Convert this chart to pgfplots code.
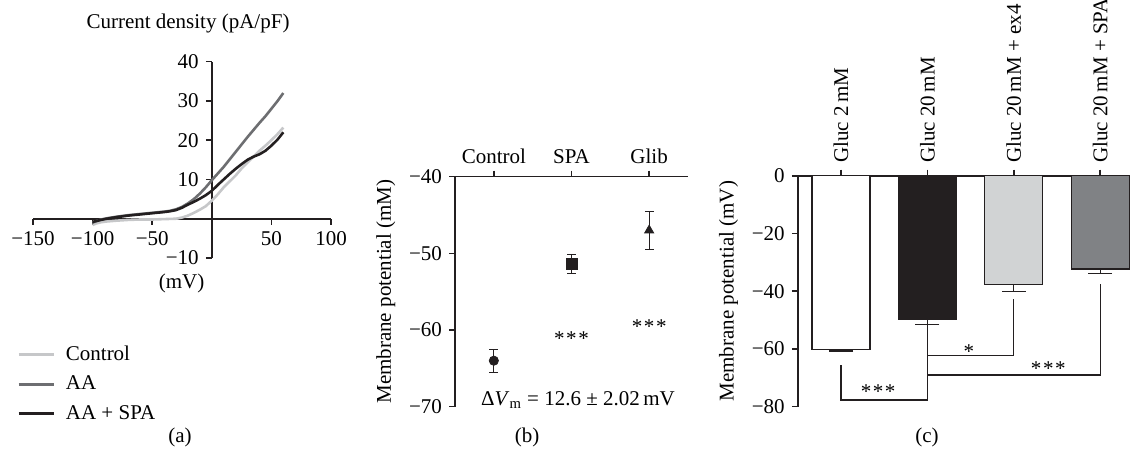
\documentclass[border=0pt]{standalone}
\usepackage{fontspec}
\setmainfont{Liberation Serif}
\usepackage{pgfplots}
\pgfplotsset{compat=1.18}

\definecolor{ctrlgray}{HTML}{C6C7C9}
\definecolor{aagray}{HTML}{6D6E71}
\definecolor{nearblack}{HTML}{231F20}
\definecolor{barlight}{HTML}{D1D3D4}
\definecolor{bargray}{HTML}{808285}

\pgfplotsset{
  panel/.style={
    scale only axis,
    anchor=south west,
    clip=false,
    axis line style={line width=0.8pt, nearblack},
    major tick style={line width=0.8pt, nearblack},
    major tick length=3pt,
    tick align=outside,
  },
}

\begin{document}
\begin{tikzpicture}[font=\fontsize{10.5}{12.6}\selectfont]
\useasboundingbox (0,0) rectangle (565.5pt,227pt);

% (a) current density
\begin{axis}[panel,
    at={(16.5pt,98pt)}, width=149pt, height=98.2pt,
    axis lines*=middle,
    xmin=-150, xmax=100, ymin=-10, ymax=40,
    xtick={-150,-100,-50,50,100},
    xticklabels={−150,−100,−50,50,100},
    ytick={-10,10,20,30,40},
    yticklabels={−10,10,20,30,40},
    legend style={at={(-0.054,-0.425)}, anchor=north west, draw=none, fill=none,
      inner sep=0pt, row sep=2.2pt, cells={anchor=west}},
    legend image code/.code={\draw[#1, line width=1.3pt] (0pt,0pt) -- (17.5pt,0pt);
      \path (21pt,0pt);},
]
\addplot[ctrlgray, line width=1.3pt] coordinates {
  (-100,-1.6) (-97,-1.2) (-93,-0.9) (-88,-0.7) (-80,-0.5) (-70,-0.3) (-60,-0.2)
  (-50,-0.2) (-40,-0.1) (-30,0) (-25,0.3) (-20,0.8) (-15,1.5) (-10,2.3) (-5,3.2)
  (0,4.6) (5,6.2) (10,8) (15,9.5) (20,11) (25,12.8) (30,14.3) (35,15.8) (40,17.3)
  (45,18.6) (50,20) (55,21.5) (60,23.2)};
\addlegendentry{Control}
\addplot[aagray, line width=1.3pt] coordinates {
  (-100,-1) (-97,-0.6) (-93,-0.2) (-88,0.1) (-80,0.5) (-70,0.9) (-60,1.2) (-50,1.5)
  (-40,1.8) (-35,2) (-30,2.4) (-25,3) (-20,3.9) (-15,5) (-10,6.4) (-5,8) (0,9.8)
  (5,11.5) (10,13.2) (15,15.1) (20,17) (25,18.9) (30,20.8) (35,22.6) (40,24.4)
  (45,26.1) (50,28) (55,29.9) (60,32)};
\addlegendentry{AA}
\addplot[nearblack, line width=1.3pt] coordinates {
  (-100,-0.8) (-97,-0.6) (-93,-0.3) (-88,0) (-80,0.4) (-70,0.8) (-60,1.1) (-50,1.4)
  (-40,1.7) (-35,1.9) (-30,2.2) (-25,2.8) (-20,3.6) (-15,4.3) (-10,5.1) (-5,6)
  (0,7.1) (5,8.6) (10,10) (15,11.4) (20,12.7) (25,13.9) (30,15) (35,15.8) (40,16.4)
  (45,17.3) (50,18.6) (55,20.1) (60,22)};
\addlegendentry{AA + SPA}
\end{axis}
\node at (94pt,215.5pt) {Current density (pA/pF)};
\node at (90.8pt,85.5pt) {(mV)};
\node at (90pt,8.5pt) {(a)};

% (b) membrane potential, three conditions
\begin{axis}[panel,
    at={(227.5pt,23.65pt)}, width=116.5pt, height=115pt,
    axis x line*=top, axis y line*=left,
    xmin=-0.5, xmax=2.5, ymin=-70, ymax=-40,
    xtick={0,1,2}, xticklabels={Control,SPA,Glib},
    ytick={-70,-60,-50,-40},
    yticklabels={−70,−60,−50,−40},
    ylabel={Membrane potential (mM)},
    error bars/error bar style={nearblack, line width=0.6pt},
    error bars/error mark options={rotate=90, nearblack, mark size=2.2pt, line width=0.6pt},
]
\addplot[nearblack, only marks, mark=*, mark size=2.3pt,
  error bars/.cd, y dir=both, y explicit] coordinates {(0,-64) +- (0,1.5)};
\addplot[nearblack, only marks, mark=square*, mark size=2.8pt,
  error bars/.cd, y dir=both, y explicit] coordinates {(1,-51.4) +- (0,1.25)};
\addplot[nearblack, only marks, mark=triangle*, mark size=2.6pt,
  error bars/.cd, y dir=both, y explicit] coordinates {(2,-47) +- (0,2.45)};
\node[yshift=-1.6pt] at (axis cs:1,-60.7) {*\kern0.8pt*\kern0.8pt*};
\node[yshift=-1.6pt] at (axis cs:2,-59.1) {*\kern0.8pt*\kern0.8pt*};
\end{axis}
\node at (289pt,27pt) {Δ\textit{V}\textsubscript{m} = 12.6 ± 2.02\,mV};
\node at (263.5pt,8.5pt) {(b)};

% (c) membrane potential, glucose conditions
\begin{axis}[panel,
    at={(398.9pt,23.65pt)}, width=166.3pt, height=115.5pt,
    axis x line*=top, axis y line*=left,
    xmin=-0.5, xmax=3.35, ymin=-80, ymax=0,
    xtick={0,1,2,3},
    xticklabels={Gluc 2\,mM, Gluc 20\,mM, Gluc 20\,mM + ex4, Gluc 20\,mM + SPA},
    xticklabel style={rotate=90, anchor=west},
    ytick={-80,-60,-40,-20,0},
    yticklabels={−80,−60,−40,−20,0},
    ylabel={Membrane potential (mV)},
    error bars/error bar style={nearblack, line width=0.6pt},
    error bars/error mark options={rotate=90, nearblack, mark size=6pt, line width=0.6pt},
    every axis plot/.append style={ybar, bar width=0.67, bar shift=0pt,
      draw=nearblack, line width=0.6pt},
]
\addplot[fill=white, error bars/.cd, y dir=minus, y explicit]
  coordinates {(0,-60.3) +- (0,0.4)};
\addplot[fill=nearblack, error bars/.cd, y dir=minus, y explicit]
  coordinates {(1,-49.6) +- (0,1.8)};
\addplot[fill=barlight, error bars/.cd, y dir=minus, y explicit]
  coordinates {(2,-37.6) +- (0,2.6)};
\addplot[fill=bargray, error bars/.cd, y dir=minus, y explicit]
  coordinates {(3,-32.3) +- (0,1.6)};
\draw[nearblack, line width=0.6pt] (axis cs:0,-65.6) -- (axis cs:0,-77.7)
  -- (axis cs:1,-77.7) -- (axis cs:1,-51.4);
\draw[nearblack, line width=0.6pt] (axis cs:1,-62.4) -- (axis cs:2,-62.4) -- (axis cs:2,-42.7);
\draw[nearblack, line width=0.6pt] (axis cs:1,-69) -- (axis cs:3,-69) -- (axis cs:3,-37.5);
\node[yshift=-1.6pt] at (axis cs:0.43,-73.5) {*\kern0.8pt*\kern0.8pt*};
\node[yshift=-1.6pt] at (axis cs:1.48,-59.7) {*};
\node[yshift=-1.6pt] at (axis cs:2.4,-65.8) {*\kern0.8pt*\kern0.8pt*};
\end{axis}
\node at (463.5pt,8.5pt) {(c)};
\end{tikzpicture}
\end{document}
